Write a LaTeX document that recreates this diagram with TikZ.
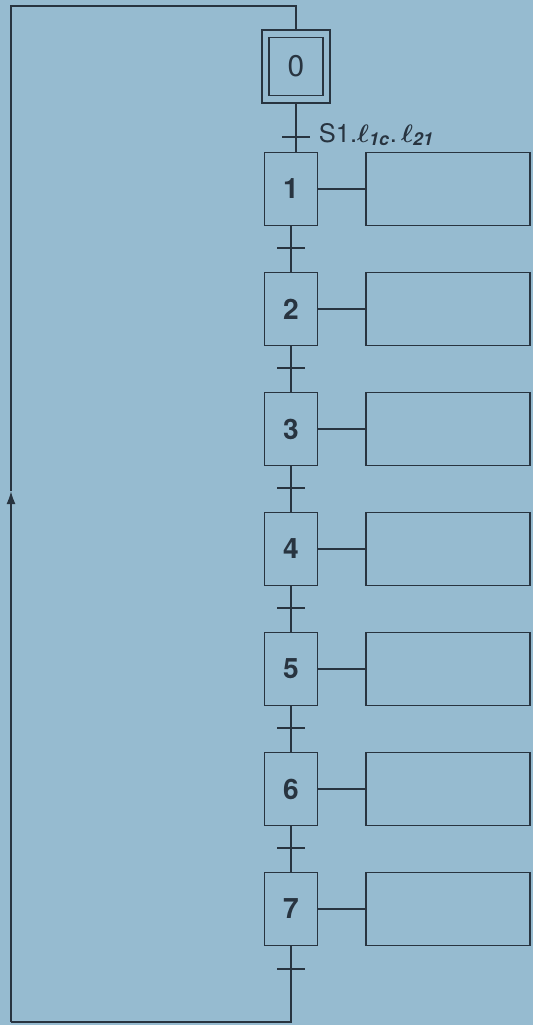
\documentclass[tikz,border=0pt]{standalone}
\usepackage{fontspec}
\setmainfont{TeX Gyre Heros}
\usetikzlibrary{arrows.meta}
\definecolor{paper}{RGB}{150,187,208}
\definecolor{ink}{RGB}{40,52,64}
\begin{document}
\begin{tikzpicture}[x=0.02cm, y=-0.02cm, line width=1.1pt, color=ink,
    stepbox/.style={draw, minimum width=1.06cm, minimum height=1.46cm, inner sep=0pt, font=\fontsize{16}{16}\selectfont\bfseries},
    actbox/.style={draw, minimum width=3.28cm, minimum height=1.46cm},
    tbar/.style={draw, minimum width=0.56cm, minimum height=0pt, inner sep=0pt, outer sep=0pt}]
    \fill[paper] (0,0) rectangle (533,1025);
    \useasboundingbox (0,0) rectangle (533,1025);
    % initial step
    \node[stepbox, minimum width=1.36cm] (s0) at (296,66.5) {};
    \node[stepbox, minimum width=1.08cm, minimum height=1.16cm, font=\fontsize{17}{17}\selectfont] (s0in) at (s0) {0};
    % steps with their actions
    \foreach \i in {1,...,7} {
        \node[stepbox] (s\i) at (291,{69+120*\i}) {\i};
        \node[actbox] (a\i) at (448,{69+120*\i}) {};
        \draw (s\i) -- (a\i);
    }
    % transitions
    \node[tbar] (t0) at (296,137) {};
    \foreach \i in {1,...,6}
        \node[tbar] (t\i) at (291,{128+120*\i}) {};
    \node[tbar] (t7) at (291,969) {};
    \node[anchor=base west, inner sep=0pt, xshift=0.16cm, yshift=-0.1cm, font=\fontsize{14.5}{16}\selectfont\boldmath] (cond) at (t0.east) {S1.$\ell_{\mathit{1c}}$.\,$\ell_{\mathit{21}}$};
    % links
    \draw (s0.south) -- (s0.south |- s1.north);
    \foreach \i/\j in {1/2,2/3,3/4,4/5,5/6,6/7}
        \draw (s\i) -- (s\j);
    % loop back to step 0
    \coordinate (bl) at (11,1022);
    \coordinate (up) at (11,491);
    \coordinate (tl) at (11,6);
    \draw (s7.south) |- (bl);
    \draw[-{Latex[length=0.26cm,width=0.18cm]}] (bl) -- (up);
    \draw (up) -- (tl) -| (s0.north);
\end{tikzpicture}
\end{document}
